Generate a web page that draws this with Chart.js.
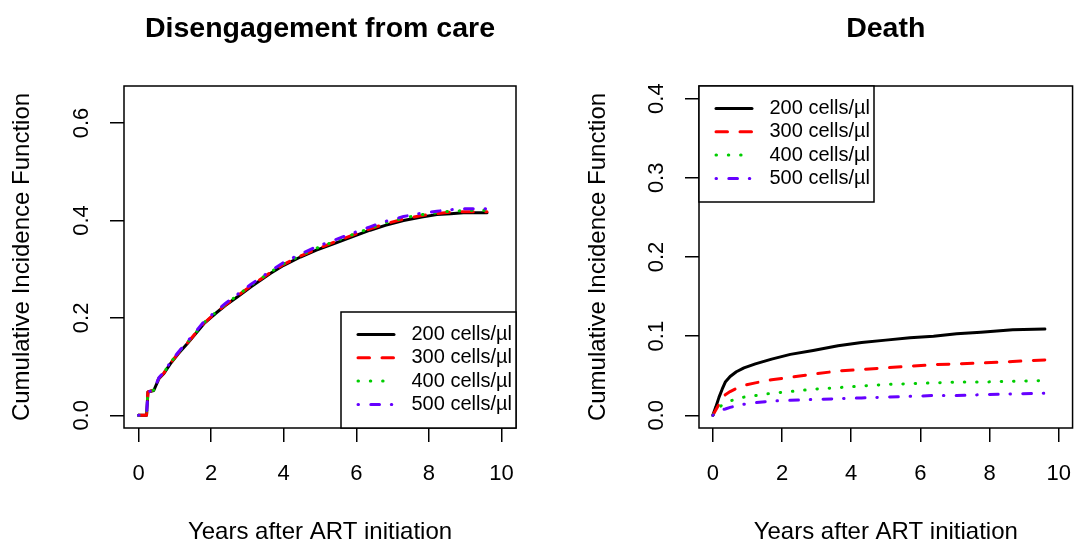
<!DOCTYPE html>
<html><head><meta charset="utf-8">
<script src="https://cdn.jsdelivr.net/npm/chart.js@4.4.0/dist/chart.umd.min.js"></script>
<style>
html,body{margin:0;padding:0;background:#fff;}
#wrap{position:relative;width:1092px;height:544px;background:#fff;}
canvas{position:absolute;top:0;}
</style></head><body>
<div id="wrap">
<canvas id="c1" width="546" height="544" style="left:0px"></canvas>
<canvas id="c2" width="546" height="544" style="left:546px"></canvas>
</div>
<script>
// ---------- data ----------
const seriesLabels = ['200 cells/\u00b5l', '300 cells/\u00b5l', '400 cells/\u00b5l', '500 cells/\u00b5l'];
const seriesColors = ['#000000', '#FF0000', '#00CD00', '#6600FF'];
const seriesDash = [[], [11.5, 12.5], [0.5, 11.8], [0.5, 12.3, 8.7, 11.8]];

const xTicks = [0, 2, 4, 6, 8, 10];
const yTicksDis = [0, 0.2, 0.4, 0.6];
const yTicksDeath = [0, 0.1, 0.2, 0.3, 0.4];

const titleDis = 'Disengagement from care';
const titleDeath = 'Death';
const xTitle = 'Years after ART initiation';
const yTitle = 'Cumulative Incidence Function';

// Disengagement from care
const xDis = [0, 0.22, 0.26, 0.42, 0.56, 0.70, 0.88, 1.10, 1.34, 1.60, 1.80, 2.12, 2.40, 2.72, 3.10, 3.63, 4.00, 4.46, 4.90, 5.37, 5.90, 6.38, 6.80, 7.30, 7.80, 8.22, 8.60, 8.95, 9.30, 9.60];
const dis200 = [0, 0, 0.048, 0.051, 0.075, 0.086, 0.106, 0.127, 0.147, 0.170, 0.188, 0.209, 0.226, 0.243, 0.264, 0.291, 0.308, 0.325, 0.339, 0.352, 0.367, 0.380, 0.390, 0.400, 0.407, 0.412, 0.414, 0.416, 0.416, 0.416];
const dis300 = [0, 0, 0.048, 0.052, 0.076, 0.087, 0.107, 0.128, 0.148, 0.171, 0.189, 0.210, 0.227, 0.245, 0.266, 0.293, 0.310, 0.327, 0.341, 0.355, 0.370, 0.383, 0.393, 0.403, 0.410, 0.414, 0.417, 0.418, 0.418, 0.418];
const dis400 = [0, 0, 0.048, 0.052, 0.076, 0.088, 0.108, 0.129, 0.149, 0.172, 0.190, 0.211, 0.228, 0.246, 0.267, 0.294, 0.311, 0.328, 0.343, 0.356, 0.371, 0.384, 0.395, 0.405, 0.412, 0.416, 0.419, 0.420, 0.421, 0.421];
const dis500 = [0, 0, 0.048, 0.052, 0.077, 0.089, 0.109, 0.130, 0.151, 0.174, 0.192, 0.213, 0.230, 0.248, 0.269, 0.296, 0.314, 0.331, 0.346, 0.359, 0.374, 0.387, 0.398, 0.408, 0.415, 0.419, 0.422, 0.424, 0.424, 0.424];

// Death
const xDeath = [0, 0.09, 0.18, 0.27, 0.36, 0.50, 0.68, 0.90, 1.23, 1.70, 2.24, 2.90, 3.62, 4.30, 5.00, 5.70, 6.38, 7.05, 7.75, 8.67, 9.60];
const death200 = [0, 0.011, 0.023, 0.033, 0.042, 0.049, 0.055, 0.060, 0.065, 0.071, 0.077, 0.082, 0.088, 0.092, 0.095, 0.098, 0.100, 0.103, 0.105, 0.108, 0.109];
const death300 = [0, 0.007, 0.014, 0.022, 0.026, 0.030, 0.034, 0.038, 0.041, 0.045, 0.048, 0.052, 0.056, 0.058, 0.060, 0.062, 0.064, 0.065, 0.066, 0.068, 0.070];
const death400 = [0, 0.005, 0.010, 0.013, 0.015, 0.018, 0.021, 0.023, 0.025, 0.028, 0.030, 0.033, 0.035, 0.037, 0.039, 0.040, 0.041, 0.042, 0.042, 0.043, 0.044];
const death500 = [0, 0.003, 0.005, 0.007, 0.008, 0.010, 0.012, 0.014, 0.016, 0.018, 0.019, 0.020, 0.021, 0.022, 0.023, 0.024, 0.025, 0.025, 0.026, 0.027, 0.028];

// axis ranges (R style 4% extension)
const xRange = [-0.4, 10.4];
const yRangeDis = [-0.026, 0.676];
const yRangeDeath = [-0.016, 0.416];

// ---------- drawing ----------
const FONT = '"Liberation Sans", Arial, Helvetica, sans-serif';
Chart.defaults.font.family = FONT;
Chart.defaults.color = '#000';

const rPlot = {
  id: 'rPlot',
  afterDraw(chart, args, o) {
    const ctx = chart.ctx, a = chart.chartArea;
    ctx.save();
    ctx.strokeStyle = '#000';
    ctx.lineWidth = 1.5;
    ctx.setLineDash([]);
    ctx.strokeRect(a.left, a.top, a.right - a.left, a.bottom - a.top);
    // main title
    ctx.fillStyle = '#000';
    ctx.font = 'bold 28.5px ' + FONT;
    ctx.textAlign = 'center';
    ctx.textBaseline = 'alphabetic';
    ctx.fillText(o.title, (a.left + a.right) / 2, o.titleY);
    // legend
    const w = 175, h = 116;
    const lx = o.legendPos === 'bottomright' ? a.right - w : a.left;
    const ly = o.legendPos === 'bottomright' ? a.bottom - h : a.top;
    ctx.fillStyle = '#fff';
    ctx.fillRect(lx, ly, w, h);
    ctx.strokeRect(lx, ly, w, h);
    ctx.font = '20px ' + FONT;
    ctx.textAlign = 'left';
    ctx.textBaseline = 'middle';
    chart.data.datasets.forEach((ds, i) => {
      const y = ly + 22.5 + i * 23.3;
      ctx.save();
      ctx.strokeStyle = ds.borderColor;
      ctx.lineWidth = ds.borderWidth;
      ctx.lineCap = 'round';
      ctx.setLineDash(ds.borderDash || []);
      ctx.beginPath();
      ctx.moveTo(lx + 17, y);
      ctx.lineTo(lx + 53, y);
      ctx.stroke();
      ctx.restore();
      ctx.fillStyle = '#000';
      ctx.fillText(ds.label, lx + 70.5, y);
    });
    ctx.restore();
  }
};

function makeChart(id, cfg) {
  const gridOpts = { drawOnChartArea: false, drawTicks: true, tickLength: 14, color: '#000', lineWidth: 1.5 };
  return new Chart(document.getElementById(id), {
    type: 'line',
    data: {
      datasets: cfg.series.map((s, i) => ({
        label: seriesLabels[i],
        data: cfg.x.map((x, j) => ({ x: x, y: s[j] })),
        borderColor: seriesColors[i],
        borderWidth: 3,
        borderDash: seriesDash[i],
        borderCapStyle: 'round',
        borderJoinStyle: 'round',
        pointRadius: 0,
        tension: 0,
        fill: false,
        order: 4 - i
      }))
    },
    options: {
      responsive: false,
      animation: false,
      devicePixelRatio: 1,
      layout: { padding: { top: 86, right: cfg.padRight, left: 0, bottom: 0 } },
      plugins: {
        legend: { display: false },
        tooltip: { enabled: false },
        rPlot: { title: cfg.title, titleY: 36.5, legendPos: cfg.legendPos }
      },
      scales: {
        x: {
          type: 'linear', min: xRange[0], max: xRange[1],
          afterBuildTicks: s => { s.ticks = xTicks.map(v => ({ value: v })); },
          afterFit: s => { s.height = 116; },
          grid: gridOpts,
          border: { display: false },
          ticks: { color: '#000', font: { size: 22, lineHeight: 1 }, padding: 21, autoSkip: false, maxRotation: 0, callback: v => String(v) },
          title: { display: true, text: xTitle, color: '#000', font: { size: 24, lineHeight: 1 }, padding: { top: 0, bottom: 0 } }
        },
        y: {
          type: 'linear', min: cfg.yRange[0], max: cfg.yRange[1],
          afterBuildTicks: s => { s.ticks = cfg.yTicks.map(v => ({ value: v })); },
          afterFit: s => { s.width = cfg.yWidth; },
          grid: gridOpts,
          border: { display: false },
          ticks: { color: '#000', font: { size: 22, lineHeight: 1 }, padding: 12.8, autoSkip: false, minRotation: 90, maxRotation: 90, crossAlign: 'center', callback: v => Number(v).toFixed(1) },
          title: { display: true, text: yTitle, color: '#000', font: { size: 24, lineHeight: 1 }, padding: { top: cfg.yTitlePad, bottom: 0 } }
        }
      }
    },
    plugins: [rPlot]
  });
}

makeChart('c1', {
  x: xDis, series: [dis200, dis300, dis400, dis500],
  yRange: yRangeDis, yTicks: yTicksDis, yWidth: 124, padRight: 30,
  yTitlePad: 10.6, title: titleDis, legendPos: 'bottomright'
});
makeChart('c2', {
  x: xDeath, series: [death200, death300, death400, death500],
  yRange: yRangeDeath, yTicks: yTicksDeath, yWidth: 153, padRight: 1,
  yTitlePad: 40.5, title: titleDeath, legendPos: 'topleft'
});
</script>
</body></html>
